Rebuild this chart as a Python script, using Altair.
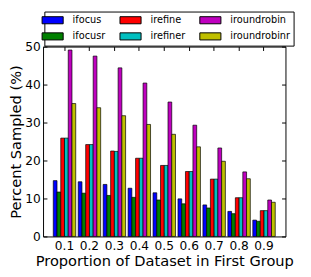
import altair as alt
import pandas as pd

groups = ["0.1", "0.2", "0.3", "0.4", "0.5", "0.6", "0.7", "0.8", "0.9"]
series_order = ["ifocus", "ifocusr", "irefine", "irefiner", "iroundrobin", "iroundrobinr"]
colors = ["#0000ff", "#008000", "#ff0000", "#00bfbf", "#bf00bf", "#bfbf00"]
ifocus = [14.7, 14.4, 13.7, 12.7, 11.5, 9.9, 8.3, 6.6, 4.3]
ifocusr = [11.7, 11.4, 10.8, 10.3, 9.6, 8.6, 7.5, 6.0, 4.0]
irefine = [25.9, 24.2, 22.5, 20.6, 18.7, 17.1, 15.1, 10.2, 6.8]
irefiner = [25.9, 24.2, 22.4, 20.6, 18.7, 17.1, 15.1, 10.2, 6.8]
iroundrobin = [49.1, 47.5, 44.4, 40.4, 35.4, 29.3, 23.3, 17.0, 9.6]
iroundrobinr = [35.0, 33.9, 31.8, 29.5, 26.9, 23.6, 19.8, 15.2, 9.0]

values = {
    "ifocus": ifocus, "ifocusr": ifocusr, "irefine": irefine,
    "irefiner": irefiner, "iroundrobin": iroundrobin, "iroundrobinr": iroundrobinr,
}
rows = []
for s in series_order:
    for g, v in zip(groups, values[s]):
        rows.append({"group": g, "series": s, "value": v})
df = pd.DataFrame(rows)

FONT = "DejaVu Sans"

xscale = alt.Scale(domain=groups, paddingInner=0.1, paddingOuter=0.41)
yscale = alt.Scale(domain=[0, 50], nice=False)
offscale = alt.Scale(domain=series_order, paddingInner=0, paddingOuter=0)

xaxis = alt.Axis(
    title="Proportion of Dataset in First Group", labelAngle=0, domain=False,
    offset=-4, tickSize=4, tickColor="black", labelPadding=3, labelFontSize=12.5,
    labelFont=FONT, labelColor="black", titleFont=FONT, titleFontSize=15,
    titleFontWeight="normal", titleColor="black", titlePadding=2.5, grid=False,
)
yaxis = alt.Axis(
    title="Percent Sampled (%)", values=[0, 10, 20, 30, 40, 50], domain=False,
    offset=-4, tickSize=4, tickColor="black", labelPadding=3, labelFontSize=12.5,
    labelFont=FONT, labelColor="black", titleFont=FONT, titleFontSize=15,
    titleFontWeight="normal", titleColor="black", titleX=-24, grid=False,
)

bars = alt.Chart(df).mark_bar(stroke="black", strokeWidth=0.7).encode(
    x=alt.X("group:N", scale=xscale, axis=xaxis, sort=groups),
    xOffset=alt.XOffset("series:N", scale=offscale, sort=series_order),
    y=alt.Y("value:Q", scale=yscale, axis=yaxis),
    color=alt.Color(
        "series:N",
        scale=alt.Scale(domain=series_order, range=colors),
        legend=alt.Legend(
            title=None, orient="none", legendX=1.35, legendY=-36, columns=3,
            direction="vertical",
            columnPadding=12, rowPadding=4, symbolType="M-2.2,-0.74H2.2V0.74H-2.2Z",
            symbolSize=97, symbolStrokeColor="black", symbolStrokeWidth=1,
            symbolOpacity=1, labelFontSize=10, labelFont=FONT, labelColor="black",
            labelOffset=15, padding=3, strokeColor="black", fillColor="white",
        ),
    ),
)

frame = alt.Chart(df).mark_bar(opacity=0).encode(
    x=alt.X("group:N", scale=xscale, sort=groups, axis=alt.Axis(
        orient="top", title=None, labels=False, domain=False, offset=-4,
        tickSize=4, tickColor="black", grid=False)),
    xOffset=alt.XOffset("series:N", scale=offscale, sort=series_order),
    y=alt.Y("value:Q", scale=yscale, axis=alt.Axis(
        orient="right", title=None, labels=False, domain=False, offset=-4,
        tickSize=4, tickColor="black", grid=False, values=[0, 10, 20, 30, 40, 50])),
)

chart = alt.layer(bars, frame).resolve_axis(x="independent", y="independent").properties(
    width=249, height=195,
    autosize=alt.AutoSizeParams(type="none"),
    padding={"left": 36, "top": 36, "right": 18, "bottom": 38},
).configure_view(stroke="black", strokeWidth=1)

chart.save("out.html", embed_options={"renderer": "svg", "actions": False})
